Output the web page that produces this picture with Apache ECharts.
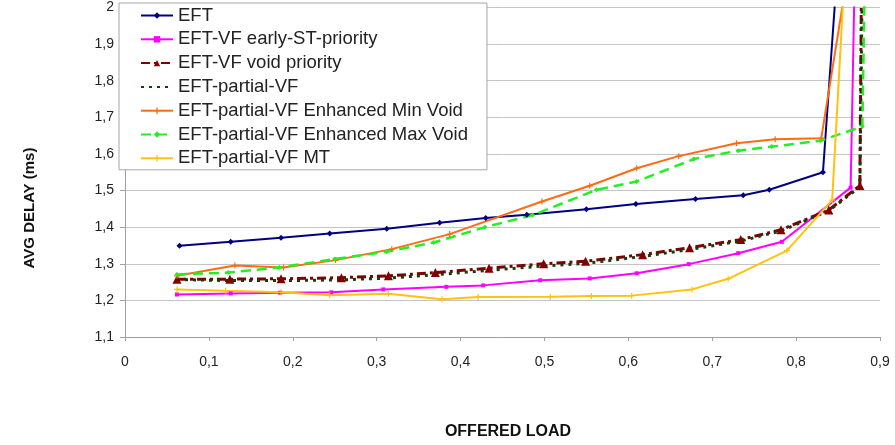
<!DOCTYPE html>
<html>
<head>
<meta charset="utf-8">
<script src="https://cdn.jsdelivr.net/npm/echarts@6/dist/echarts.min.js"></script>
<style>
  html, body { margin: 0; padding: 0; background: #ffffff; }
  #chart { width: 895px; height: 445px; }
</style>
</head>
<body>
<div id="chart"></div>
<script>
// Average delay (ms) versus offered load, one [load, delay] list per scheduling variant.
var eft = [[0.065,1.349],[0.126,1.360],[0.186,1.371],[0.244,1.383],[0.312,1.396],[0.375,1.412],[0.430,1.425],[0.479,1.434],[0.550,1.449],[0.609,1.463],[0.680,1.477],[0.737,1.487],[0.768,1.502],[0.832,1.550],[0.849,2.1]];
var eftVfEarlySt = [[0.062,1.216],[0.126,1.219],[0.185,1.221],[0.246,1.222],[0.308,1.230],[0.383,1.237],[0.427,1.241],[0.495,1.255],[0.554,1.260],[0.610,1.274],[0.672,1.299],[0.731,1.329],[0.783,1.360],[0.865,1.508],[0.870,2.1]];
var eftVfVoid = [[0.062,1.258],[0.125,1.258],[0.186,1.259],[0.258,1.262],[0.314,1.267],[0.370,1.276],[0.434,1.288],[0.499,1.300],[0.549,1.307],[0.617,1.325],[0.673,1.344],[0.734,1.366],[0.782,1.393],[0.839,1.447],[0.876,1.514],[0.878,2.1]];
var eftPartialVf = [[0.062,1.257],[0.125,1.254],[0.186,1.254],[0.258,1.256],[0.314,1.261],[0.370,1.270],[0.434,1.282],[0.499,1.294],[0.549,1.301],[0.617,1.320],[0.673,1.339],[0.734,1.362],[0.782,1.390],[0.839,1.445],[0.876,1.510],[0.879,2.1]];
var eftPartialMinVoid = [[0.062,1.267],[0.131,1.295],[0.189,1.290],[0.251,1.310],[0.318,1.340],[0.387,1.381],[0.497,1.470],[0.554,1.513],[0.610,1.561],[0.660,1.594],[0.729,1.629],[0.775,1.640],[0.830,1.643],[0.862,2.1]];
var eftPartialMaxVoid = [[0.062,1.271],[0.123,1.276],[0.184,1.290],[0.250,1.313],[0.312,1.333],[0.368,1.358],[0.429,1.400],[0.486,1.433],[0.562,1.502],[0.610,1.525],[0.678,1.586],[0.731,1.609],[0.771,1.620],[0.829,1.636],[0.879,1.675],[0.882,2.1]];
var eftPartialMt = [[0.062,1.230],[0.120,1.226],[0.186,1.222],[0.244,1.214],[0.314,1.218],[0.378,1.203],[0.421,1.209],[0.507,1.210],[0.556,1.212],[0.604,1.213],[0.676,1.230],[0.719,1.259],[0.789,1.336],[0.843,1.474],[0.858,2.1]];

var seriesNames = [
  'EFT',
  'EFT-VF early-ST-priority',
  'EFT-VF void priority',
  'EFT-partial-VF',
  'EFT-partial-VF Enhanced Min Void',
  'EFT-partial-VF Enhanced Max Void',
  'EFT-partial-VF MT'
];

var xTicks = { min: 0, max: 0.9, step: 0.1 };
var yTicks = { min: 1.1, max: 2.0, step: 0.1 };
var xTitle = 'OFFERED LOAD';
var yTitle = 'AVG DELAY (ms)';

var FONT = '"Liberation Sans", Arial, sans-serif';
var plusPath = 'path://M4,0h2v10h-2z M0,4h10v2h-10z';

function decimalComma(v) {
  return String(Math.round(v * 10) / 10).replace('.', ',');
}

function lineSeries(name, data, color, lineType, width, symbol, symbolSize) {
  return {
    name: name,
    type: 'line',
    data: data,
    clip: true,
    symbol: symbol,
    symbolSize: symbolSize,
    showSymbol: symbol !== 'none',
    lineStyle: { color: color, width: width, type: lineType },
    itemStyle: { color: color, borderWidth: 0 },
    emphasis: { disabled: true },
    z: 3
  };
}

// The dotted series has no markers, so its legend swatch is the line alone.
var legendData = seriesNames.map(function (n, i) {
  return i === 3 ? { name: n, itemStyle: { color: 'rgba(0,0,0,0)' } } : { name: n };
});

var chart = echarts.init(document.getElementById('chart'), null, { renderer: 'canvas' });

chart.setOption({
  animation: false,
  backgroundColor: '#ffffff',
  textStyle: { fontFamily: FONT },
  grid: { left: 125, right: 15, top: 7.5, bottom: 108, containLabel: false },
  legend: {
    data: legendData,
    orient: 'vertical',
    left: 119,
    top: 3,
    padding: [3, 19, 2, 21],
    itemWidth: 32,
    itemHeight: 8,
    itemGap: 4.8,
    backgroundColor: '#ffffff',
    borderColor: '#a6a6a6',
    borderWidth: 1,
    z: 10,
    textStyle: { fontFamily: FONT, fontSize: 18.5, color: '#222222' }
  },
  graphic: [
    {
      type: 'text',
      x: 30, y: 208,
      rotation: Math.PI / 2,
      style: {
        text: yTitle,
        font: 'bold 15px "Liberation Sans", Arial, sans-serif',
        fill: '#111111',
        align: 'center',
        verticalAlign: 'middle'
      }
    },
    {
      type: 'text',
      x: 508, y: 432,
      style: {
        text: xTitle,
        font: 'bold 16px "Liberation Sans", Arial, sans-serif',
        fill: '#111111',
        align: 'center',
        verticalAlign: 'middle'
      }
    }
  ],
  xAxis: {
    type: 'value',
    min: xTicks.min,
    max: xTicks.max,
    interval: xTicks.step,
    axisLine: { show: true, lineStyle: { color: '#a0a0a0', width: 1 } },
    axisTick: { show: true, length: 4, lineStyle: { color: '#a0a0a0' } },
    splitLine: { show: false },
    axisLabel: { fontFamily: FONT, fontSize: 14, color: '#222222', margin: 18, formatter: decimalComma }
  },
  yAxis: {
    type: 'value',
    min: yTicks.min,
    max: yTicks.max,
    interval: yTicks.step,
    axisLine: { show: true, lineStyle: { color: '#a0a0a0', width: 1 } },
    axisTick: { show: true, length: 5, lineStyle: { color: '#a0a0a0' } },
    splitLine: { show: true, lineStyle: { color: '#c4c4c4', width: 1 } },
    axisLabel: { fontFamily: FONT, fontSize: 14, color: '#222222', margin: 11, formatter: decimalComma }
  },
  series: [
    lineSeries(seriesNames[0], eft, '#000080', 'solid', 2, 'diamond', 6),
    lineSeries(seriesNames[1], eftVfEarlySt, '#ff00ff', 'solid', 2, 'rect', 4),
    lineSeries(seriesNames[2], eftVfVoid, '#800000', [9, 4, 3, 4], 3, 'triangle', 9),
    lineSeries(seriesNames[3], eftPartialVf, '#0e3f0e', [3, 5], 3, 'none', 0),
    lineSeries(seriesNames[4], eftPartialMinVoid, '#ff6a13', 'solid', 2, plusPath, 6),
    lineSeries(seriesNames[5], eftPartialMaxVoid, '#22f022', [10, 6], 2.5, 'diamond', 5),
    lineSeries(seriesNames[6], eftPartialMt, '#ffc20e', 'solid', 2, plusPath, 6)
  ]
});
</script>
</body>
</html>
